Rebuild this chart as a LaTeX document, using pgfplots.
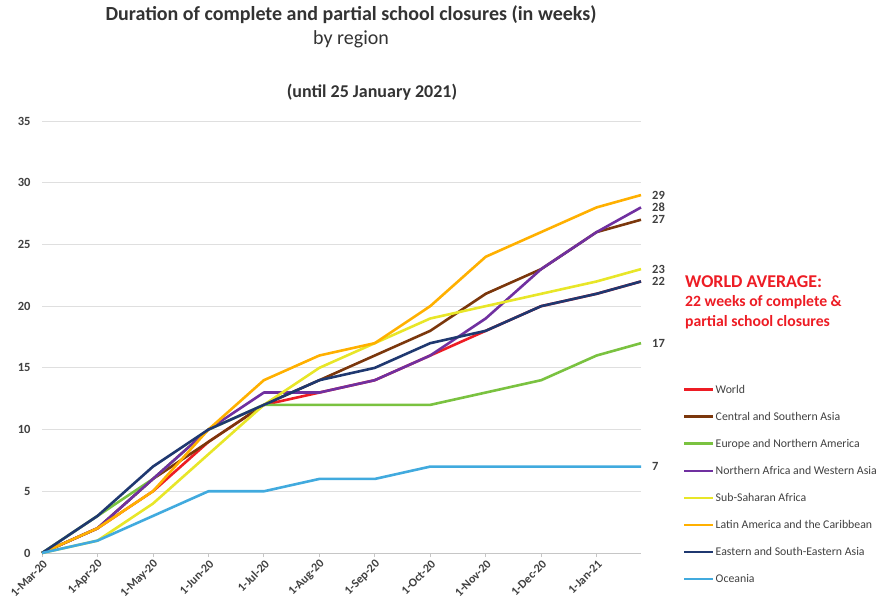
\documentclass[border=0pt]{standalone}
\usepackage{pgfplots}
\pgfplotsset{compat=1.18}
\usepackage{pgfplotstable}
\usepackage{fontspec}
\setmainfont{Carlito}
\definecolor{cworld}{RGB}{237,28,36}
\definecolor{ccsa}{RGB}{123,55,12}
\definecolor{cena}{RGB}{122,194,64}
\definecolor{cnawa}{RGB}{112,48,160}
\definecolor{cssa}{RGB}{232,230,40}
\definecolor{clac}{RGB}{255,176,0}
\definecolor{cesea}{RGB}{31,56,112}
\definecolor{coce}{RGB}{65,170,222}
\definecolor{txt}{RGB}{64,64,64}
\definecolor{ttl}{RGB}{51,51,51}
\pgfplotstableread{
x world csa ena nawa ssa lac esea oce
0 0 0 0 0 0 0 0 0
1 2 2 3 2 1 2 3 1
2 5 6 6 6 4 5 7 3
3 9 9 10 10 8 10 10 5
4 12 12 12 13 12 14 12 5
5 13 14 12 13 15 16 14 6
6 14 16 12 14 17 17 15 6
7 16 18 12 16 19 20 17 7
8 18 21 13 19 20 24 18 7
9 20 23 14 23 21 26 20 7
10 21 26 16 26 22 28 21 7
10.8 22 27 17 28 23 29 22 7
}\data
\begin{document}
\begin{tikzpicture}[x=1pt,y=1pt]
\useasboundingbox (0,0) rectangle (882,605);
\begin{axis}[
  at={(42pt,52pt)}, anchor=south west,
  scale only axis, width=599pt, height=432pt,
  xmin=0, xmax=10.8, ymin=0, ymax=35,
  xtick={0,1,...,10},
  xticklabels={1-Mar-20,1-Apr-20,1-May-20,1-Jun-20,1-Jul-20,1-Aug-20,1-Sep-20,1-Oct-20,1-Nov-20,1-Dec-20,1-Jan-21},
  ytick={0,5,...,35},
  axis x line*=bottom, axis y line*=left,
  y axis line style={draw=none},
  x axis line style={draw=gray!45, line width=0.8pt},
  ytick style={draw=none},
  xtick style={draw=gray!45, line width=0.8pt},
  tick align=outside, major tick length=4pt,
  ymajorgrids, grid style={draw=gray!25, line width=0.8pt},
  /pgf/number format/assume math mode=true,
  yticklabel style={font=\fontsize{12.5}{14}\selectfont\bfseries, text=txt, xshift=-4pt},
  xticklabel style={font=\fontsize{12}{14}\selectfont\bfseries, text=txt, rotate=45, anchor=east, xshift=2pt, yshift=-6pt},
  every axis plot/.append style={line width=2.6pt, line join=round},
  legend style={draw=none, fill=none, at={(1.07,0.392)}, anchor=north west,
    font=\fontsize{11.8}{14}\selectfont, text=txt, inner sep=0pt,
    row sep=15.35pt, nodes={inner sep=1pt}},
  legend cell align=left,
  legend image code/.code={\draw[#1, line width=2.6pt] (0pt,0pt) -- (29pt,0pt);},
  clip=false,
]
\addplot[cworld] table[x=x,y=world] {\data}; \addlegendentry{World}
\addplot[ccsa] table[x=x,y=csa] {\data}; \addlegendentry{Central and Southern Asia}
\addplot[cena] table[x=x,y=ena] {\data}; \addlegendentry{Europe and Northern America}
\addplot[cnawa] table[x=x,y=nawa] {\data}; \addlegendentry{Northern Africa and Western Asia}
\addplot[cssa] table[x=x,y=ssa] {\data}; \addlegendentry{Sub-Saharan Africa}
\addplot[clac] table[x=x,y=lac] {\data}; \addlegendentry{Latin America and the Caribbean}
\addplot[cesea] table[x=x,y=esea] {\data}; \addlegendentry{Eastern and South-Eastern Asia}
\addplot[coce] table[x=x,y=oce] {\data}; \addlegendentry{Oceania}
\foreach \v in {29,28,27,23,22,17,7}{
  \edef\tmp{\noexpand\node[anchor=west, inner sep=0pt, xshift=11pt, font=\noexpand\fontsize{12.5}{13}\noexpand\selectfont\noexpand\bfseries, text=txt] at (axis cs:10.8,\v) {\v};}
  \tmp
}
\end{axis}
\node[font=\fontsize{20}{22}\selectfont\bfseries, text=ttl] at (351,590) {Duration of complete and partial school closures (in weeks)};
\node[font=\fontsize{20}{22}\selectfont, text=ttl] at (351,566) {by region};
\node[font=\fontsize{18}{20}\selectfont\bfseries, text=ttl] at (372,513) {(until 25 January 2021)};
\node[anchor=west, inner sep=0pt, text=cworld, font=\fontsize{18}{20}\selectfont\bfseries] at (685,323) {WORLD AVERAGE:};
\node[anchor=west, inner sep=0pt, text=cworld, font=\fontsize{15.7}{18}\selectfont\bfseries] at (685,303) {22 weeks of complete \&};
\node[anchor=west, inner sep=0pt, text=cworld, font=\fontsize{15.7}{18}\selectfont\bfseries] at (685,283) {partial school closures};
\end{tikzpicture}
\end{document}
